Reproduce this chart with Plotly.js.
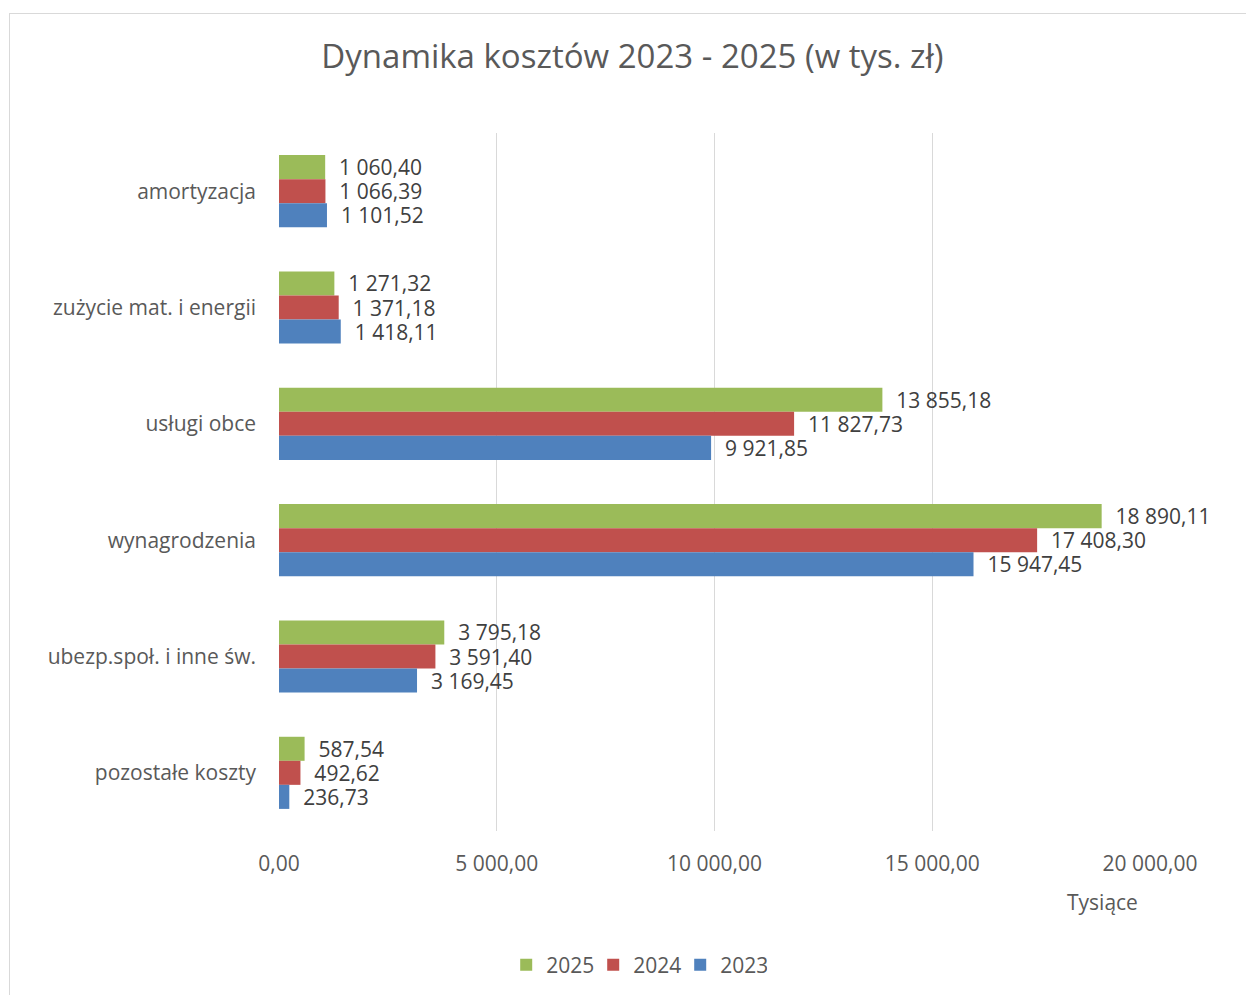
<!DOCTYPE html>
<html>
<head>
<meta charset="utf-8">
<script src="https://cdn.plot.ly/plotly-3.0.1.min.js"></script>
<style>
html,body{margin:0;padding:0;background:#fff;}
#chart{position:absolute;left:0;top:0;width:1246px;height:995px;}
#frame{position:absolute;left:9px;top:13px;width:1300px;height:1100px;border:1px solid #D9D9D9;pointer-events:none;}
</style>
</head>
<body>
<div id="chart"></div>
<div id="frame"></div>
<script>
const categories = ["amortyzacja", "zużycie mat. i energii", "usługi obce", "wynagrodzenia", "ubezp.społ. i inne św.", "pozostałe koszty"];
const v2025 = [1060.40, 1271.32, 13855.18, 18890.11, 3795.18, 587.54];
const v2024 = [1066.39, 1371.18, 11827.73, 17408.30, 3591.40, 492.62];
const v2023 = [1101.52, 1418.11, 9921.85, 15947.45, 3169.45, 236.73];
const seriesNames = ["2025", "2024", "2023"];
const colors = ["#9BBB59", "#C0504D", "#4F81BD"];
const xTicks = [0, 5000, 10000, 15000, 20000];

const series = [v2025, v2024, v2023];
const traces = series.map((vals, i) => ({
  type: "bar",
  orientation: "h",
  name: seriesNames[i],
  x: vals,
  y: categories,
  marker: {color: colors[i]},
  texttemplate: "\u00a0\u00a0%{x:,.2f}",
  textposition: "outside",
  constraintext: "none",
  cliponaxis: false,
  textfont: {family: "Open Sans", size: 21, color: "#404040"},
  hoverinfo: "x+name"
}));

const layout = {
  width: 1246, height: 995,
  paper_bgcolor: "rgba(0,0,0,0)",
  plot_bgcolor: "#fff",
  separators: ", ",
  font: {family: "Open Sans", size: 21, color: "#595959"},
  margin: {l: 279, r: 96, t: 133, b: 164},
  barmode: "group",
  bargap: 0.38,
  bargroupgap: 0,
  title: {
    text: "Dynamika kosztów 2023 - 2025 (w tys. zł)",
    font: {family: "Open Sans", size: 33, color: "#595959"},
    x: 0.5076, xanchor: "center", xref: "container",
    y: 0.943, yanchor: "middle", yref: "container"
  },
  xaxis: {
    range: [0, 20000],
    tickvals: xTicks,
    tickformat: ",.2f",
    showgrid: true, gridcolor: "#D9D9D9", gridwidth: 1,
    zeroline: false, showline: false,
    ticks: "", ticklabelstandoff: 18,
    tickfont: {size: 21, color: "#595959"},
    fixedrange: true
  },
  yaxis: {
    type: "category",
    categoryorder: "array",
    categoryarray: categories,
    autorange: "reversed",
    showgrid: false, zeroline: false, showline: false,
    ticks: "", ticklabelstandoff: 22,
    tickfont: {size: 21, color: "#595959"},
    fixedrange: true
  },
  legend: {
    orientation: "h",
    xref: "container", yref: "container",
    x: 0.511, xanchor: "center",
    y: 0.03, yanchor: "middle",
    font: {size: 21, color: "#595959"},
    traceorder: "normal",
    itemwidth: 30,
    entrywidth: 42
  },
  annotations: [{
    text: "Tysiące",
    xref: "paper", yref: "paper",
    x: 0.945, y: -0.102,
    xanchor: "center", yanchor: "middle",
    showarrow: false,
    font: {size: 21, color: "#595959"}
  }],
  showlegend: true
};

Plotly.newPlot("chart", traces, layout, {displayModeBar: false, staticPlot: true});
</script>
</body>
</html>
